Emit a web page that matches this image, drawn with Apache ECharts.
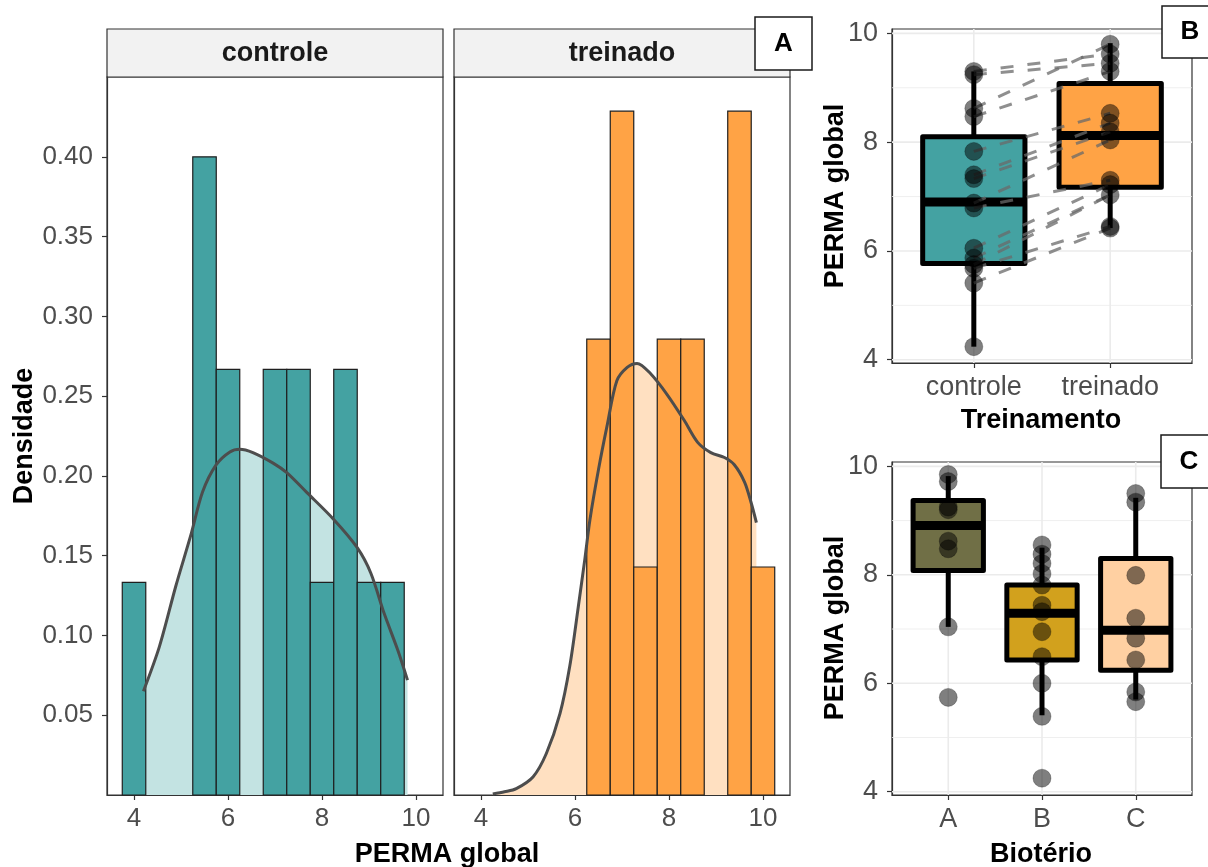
<!DOCTYPE html>
<html>
<head>
<meta charset="utf-8">
<title>PERMA global</title>
<script src="https://cdn.jsdelivr.net/npm/echarts@6/dist/echarts.min.js"></script>
<style>
  html, body { margin: 0; padding: 0; background: #fff; }
  #chart { width: 1208px; height: 867px; }
</style>
</head>
<body>
<div id="chart"></div>
<script>
// Histogram bins (width 0.5) and densities per group
const binWidth = 0.5;
const binStarts = [3.75, 4.25, 4.75, 5.25, 5.75, 6.25, 6.75, 7.25, 7.75, 8.25, 8.75, 9.25, 9.75];
const controleDensity = [0.1333, 0, 0, 0.4, 0.2667, 0, 0.2667, 0.2667, 0.1333, 0.2667, 0.1333, 0.1333, 0];
const treinadoDensity = [0, 0, 0, 0, 0, 0.2857, 0.4286, 0.1429, 0.2857, 0.2857, 0, 0.4286, 0.1429];

// Kernel density estimates
const controleKdeX = [4.20, 4.54, 4.89, 5.21, 5.46, 5.75, 6.04, 6.25, 6.53, 6.96, 7.25, 7.68, 8.25, 8.75, 9.04, 9.32, 9.61, 9.82];
const controleKdeY = [0.065, 0.093, 0.131, 0.163, 0.190, 0.207, 0.215, 0.2167, 0.2146, 0.208, 0.202, 0.1895, 0.1727, 0.155, 0.139, 0.114, 0.091, 0.072];
const treinadoKdeX = [4.25, 4.50, 4.75, 5.11, 5.39, 5.68, 5.89, 6.07, 6.21, 6.32, 6.50, 6.68, 6.89, 7.11, 7.32, 7.61, 7.96, 8.32, 8.61, 8.89, 9.18, 9.39, 9.61, 9.75, 9.86];
const treinadoKdeY = [0.0006, 0.002, 0.004, 0.0115, 0.026, 0.051, 0.081, 0.118, 0.148, 0.173, 0.204, 0.231, 0.2596, 0.268, 0.2705, 0.264, 0.251, 0.235, 0.221, 0.2146, 0.2115, 0.207, 0.196, 0.183, 0.1707];

// Axis ticks
const densTicks = [0.05, 0.10, 0.15, 0.20, 0.25, 0.30, 0.35, 0.40];
const permaTicksHist = [4, 6, 8, 10];
const permaTicks = [4, 6, 8, 10];
const permaMinor = [5, 7, 9];

// Training groups: box stats [position, lower whisker, Q1, median, Q3, upper whisker]
const treinoCats = ['controle', 'treinado'];
const treinoBoxes = [
  [1, 4.24, 5.77, 6.90, 8.10, 9.30],
  [2, 6.42, 7.17, 8.12, 9.08, 9.82]
];
const controlePoints = [9.30, 9.24, 8.62, 8.47, 7.83, 7.40, 7.33, 6.88, 6.79, 6.05, 5.87, 5.75, 5.68, 5.41, 4.24];
const treinadoPoints = [9.80, 9.62, 9.45, 9.30, 8.53, 8.35, 8.19, 8.04, 7.30, 7.22, 7.03, 6.45, 6.42];
// Paired subjects: controle value -> treinado value
const pairControle = [9.30, 9.24, 8.62, 8.47, 7.83, 7.40, 7.33, 6.88, 6.79, 6.05, 5.87, 5.75, 5.68, 5.41];
const pairTreinado = [9.62, 9.45, 9.80, 9.30, 8.53, 8.35, 8.19, 8.04, 7.30, 7.22, 7.03, 7.03, 6.45, 6.42];

// Animal facility groups
const bioCats = ['A', 'B', 'C'];
const bioBoxes = [
  [1, 7.04, 8.08, 8.91, 9.37, 9.82],
  [2, 5.41, 6.43, 7.29, 7.81, 8.50],
  [3, 5.70, 6.24, 6.98, 8.30, 9.42]
];
const bioPointsA = [9.85, 9.72, 9.25, 9.20, 8.62, 8.48, 7.04, 5.74];
const bioPointsB = [8.55, 8.38, 8.21, 8.02, 7.81, 7.44, 7.32, 6.95, 6.49, 6.00, 5.39, 4.25];
const bioPointsC = [9.50, 9.34, 7.99, 7.20, 6.83, 6.43, 5.84, 5.66];

const TEAL = '#44A2A2', ORANGE = '#FFA345';
const TEAL_LIGHT = '#C3E3E2', ORANGE_LIGHT = '#FFE0C1';
const treinoColors = [TEAL, ORANGE];
const bioColors = ['#706F46', '#D2A11D', '#FFD0A2'];
const FONT = '"Liberation Sans", Arial, sans-serif';
const boxWidth = 0.75;

function zip(xs, ys) { return xs.map((x, i) => [x, ys[i]]); }

function histSeries(idx, dens, color) {
  return {
    type: 'custom', xAxisIndex: idx, yAxisIndex: idx, z: 3,
    data: binStarts.map((b, i) => [b, dens[i]]),
    renderItem(params, api) {
      const x0 = api.value(0), h = api.value(1);
      if (!h) return null;
      const p0 = api.coord([x0, h]);
      const p1 = api.coord([x0 + binWidth, 0]);
      return {
        type: 'rect',
        shape: { x: p0[0], y: p0[1], width: p1[0] - p0[0], height: p1[1] - p0[1] },
        style: { fill: color, stroke: '#1f1f1f', lineWidth: 1.2 }
      };
    }
  };
}

function kdeArea(idx, xs, ys, fill) {
  return {
    type: 'line', xAxisIndex: idx, yAxisIndex: idx, z: 2, smooth: 0.3, symbol: 'none',
    data: zip(xs, ys), lineStyle: { width: 0 }, areaStyle: { color: fill, opacity: 1 }
  };
}

function kdeLine(idx, xs, ys) {
  return {
    type: 'line', xAxisIndex: idx, yAxisIndex: idx, z: 4, smooth: 0.3, symbol: 'none',
    data: zip(xs, ys), lineStyle: { color: '#4D4D4D', width: 3 }
  };
}

function gridLines(idx, cats) {
  const data = permaTicks.map(v => [v, 0, 1.6])
    .concat(permaMinor.map(v => [v, 0, 0.8]))
    .concat(cats.map((c, i) => [i + 1, 1, 1.6]));
  return {
    type: 'custom', xAxisIndex: idx, yAxisIndex: idx, z: 1, silent: true,
    data,
    renderItem(params, api) {
      const cs = params.coordSys;
      const v = api.value(0), vertical = api.value(1), w = api.value(2);
      let shape;
      if (vertical) {
        const px = api.coord([v, 7])[0];
        shape = { x1: px, y1: cs.y, x2: px, y2: cs.y + cs.height };
      } else {
        const py = api.coord([1, v])[1];
        shape = { x1: cs.x, y1: py, x2: cs.x + cs.width, y2: py };
      }
      return { type: 'line', shape, style: { stroke: '#EBEBEB', lineWidth: w } };
    }
  };
}

function boxSeries(idx, boxes, colors) {
  return {
    type: 'custom', xAxisIndex: idx, yAxisIndex: idx, z: 3,
    data: boxes,
    renderItem(params, api) {
      const x = api.value(0);
      const lo = api.coord([x, api.value(1)]);
      const q1 = api.coord([x, api.value(2)]);
      const md = api.coord([x, api.value(3)]);
      const q3 = api.coord([x, api.value(4)]);
      const hi = api.coord([x, api.value(5)]);
      const half = api.size([boxWidth, 0])[0] / 2;
      const cx = md[0];
      const stroke = { stroke: '#000', lineWidth: 5, lineCap: 'butt' };
      return {
        type: 'group',
        children: [
          { type: 'line', shape: { x1: cx, y1: q3[1], x2: cx, y2: hi[1] }, style: stroke },
          { type: 'line', shape: { x1: cx, y1: q1[1], x2: cx, y2: lo[1] }, style: stroke },
          { type: 'rect', shape: { x: cx - half, y: q3[1], width: 2 * half, height: q1[1] - q3[1] },
            style: { fill: colors[params.dataIndex], stroke: '#000', lineWidth: 5, lineJoin: 'round' } },
          { type: 'line', shape: { x1: cx - half, y1: md[1], x2: cx + half, y2: md[1] },
            style: { stroke: '#000', lineWidth: 9 } }
        ]
      };
    }
  };
}

function pointSeries(idx, pos, values) {
  return {
    type: 'scatter', xAxisIndex: idx, yAxisIndex: idx, z: 6,
    symbolSize: 18,
    data: values.map(v => [pos, v]),
    itemStyle: { color: 'rgba(0,0,0,0.5)', borderColor: 'rgba(0,0,0,0.25)', borderWidth: 1, opacity: 1 }
  };
}

const pairSeries = {
  type: 'custom', xAxisIndex: 2, yAxisIndex: 2, z: 5,
  data: zip(pairControle, pairTreinado),
  renderItem(params, api) {
    const a = api.coord([1, api.value(0)]);
    const b = api.coord([2, api.value(1)]);
    return {
      type: 'line', shape: { x1: a[0], y1: a[1], x2: b[0], y2: b[1] },
      style: { stroke: 'rgba(105,105,105,0.75)', lineWidth: 3, lineDash: [13, 14] }
    };
  }
};

const tickStyle = { length: 5, lineStyle: { color: '#333', width: 1.2 } };
const labelStyle = { color: '#4D4D4D', fontFamily: FONT };

function baseAxis(extra) {
  return Object.assign({
    type: 'value',
    axisLine: { show: true, onZero: false, lineStyle: { color: '#333', width: 1.2 } },
    splitLine: { show: false }
  }, extra);
}

const option = {
  animation: false,
  backgroundColor: '#fff',
  grid: [
    { left: 107, top: 77, width: 336, height: 718, show: true, borderColor: '#333', borderWidth: 1.2 },
    { left: 454, top: 77, width: 336, height: 718, show: true, borderColor: '#333', borderWidth: 1.2 },
    { left: 892, top: 29, width: 300, height: 334, show: true, borderColor: '#333', borderWidth: 1.2 },
    { left: 892, top: 462, width: 300, height: 333, show: true, borderColor: '#333', borderWidth: 1.2 }
  ],
  xAxis: [
    baseAxis({ gridIndex: 0, min: 3.425, max: 10.575,
      axisTick: Object.assign({ customValues: permaTicksHist }, tickStyle),
      axisLabel: Object.assign({ customValues: permaTicksHist, fontSize: 26, margin: 11 }, labelStyle) }),
    baseAxis({ gridIndex: 1, min: 3.425, max: 10.575,
      axisTick: Object.assign({ customValues: permaTicksHist }, tickStyle),
      axisLabel: Object.assign({ customValues: permaTicksHist, fontSize: 26, margin: 11 }, labelStyle) }),
    baseAxis({ gridIndex: 2, min: 0.4, max: 2.6,
      axisTick: Object.assign({ customValues: [1, 2] }, tickStyle),
      axisLabel: Object.assign({ customValues: [1, 2], fontSize: 27, margin: 11,
        formatter: v => treinoCats[Math.round(v) - 1] }, labelStyle) }),
    baseAxis({ gridIndex: 3, min: 0.4, max: 3.6,
      axisTick: Object.assign({ customValues: [1, 2, 3] }, tickStyle),
      axisLabel: Object.assign({ customValues: [1, 2, 3], fontSize: 27, margin: 11,
        formatter: v => bioCats[Math.round(v) - 1] }, labelStyle) })
  ],
  yAxis: [
    baseAxis({ gridIndex: 0, min: 0, max: 0.45,
      axisTick: Object.assign({ customValues: densTicks }, tickStyle),
      axisLabel: Object.assign({ customValues: densTicks, fontSize: 26, margin: 14,
        formatter: v => v.toFixed(2) }, labelStyle) }),
    baseAxis({ gridIndex: 1, min: 0, max: 0.45, axisTick: { show: false }, axisLabel: { show: false } }),
    baseAxis({ gridIndex: 2, min: 3.94, max: 10.08,
      axisTick: Object.assign({ customValues: permaTicks }, tickStyle),
      axisLabel: Object.assign({ customValues: permaTicks, fontSize: 27, margin: 14 }, labelStyle) }),
    baseAxis({ gridIndex: 3, min: 3.94, max: 10.08,
      axisTick: Object.assign({ customValues: permaTicks }, tickStyle),
      axisLabel: Object.assign({ customValues: permaTicks, fontSize: 27, margin: 14 }, labelStyle) })
  ],
  series: [
    kdeArea(0, controleKdeX, controleKdeY, TEAL_LIGHT),
    histSeries(0, controleDensity, TEAL),
    kdeLine(0, controleKdeX, controleKdeY),
    kdeArea(1, treinadoKdeX, treinadoKdeY, ORANGE_LIGHT),
    histSeries(1, treinadoDensity, ORANGE),
    kdeLine(1, treinadoKdeX, treinadoKdeY),

    gridLines(2, treinoCats),
    boxSeries(2, treinoBoxes, treinoColors),
    pairSeries,
    pointSeries(2, 1, controlePoints),
    pointSeries(2, 2, treinadoPoints),

    gridLines(3, bioCats),
    boxSeries(3, bioBoxes, bioColors),
    pointSeries(3, 1, bioPointsA),
    pointSeries(3, 2, bioPointsB),
    pointSeries(3, 3, bioPointsC)
  ],
  graphic: [
    // facet strips
    { type: 'rect', shape: { x: 107, y: 29, width: 336, height: 48 }, style: { fill: '#F2F2F2', stroke: '#333', lineWidth: 1.2 } },
    { type: 'rect', shape: { x: 454, y: 29, width: 336, height: 48 }, style: { fill: '#F2F2F2', stroke: '#333', lineWidth: 1.2 } },
    { type: 'text', x: 275, y: 54, style: { text: 'controle', font: 'bold 27px ' + FONT, fill: '#1A1A1A', align: 'center', verticalAlign: 'middle', textAlign: 'center', textVerticalAlign: 'middle' } },
    { type: 'text', x: 622, y: 54, style: { text: 'treinado', font: 'bold 27px ' + FONT, fill: '#1A1A1A', align: 'center', verticalAlign: 'middle', textAlign: 'center', textVerticalAlign: 'middle' } },

    // axis titles
    { type: 'text', x: 25, y: 436, rotation: Math.PI / 2, style: { text: 'Densidade', font: 'bold 27px ' + FONT, fill: '#000', align: 'center', verticalAlign: 'middle', textAlign: 'center', textVerticalAlign: 'middle' } },
    { type: 'text', x: 447, y: 855, style: { text: 'PERMA global', font: 'bold 27px ' + FONT, fill: '#000', align: 'center', verticalAlign: 'middle', textAlign: 'center', textVerticalAlign: 'middle' } },
    { type: 'text', x: 836, y: 196, rotation: Math.PI / 2, style: { text: 'PERMA global', font: 'bold 27px ' + FONT, fill: '#000', align: 'center', verticalAlign: 'middle', textAlign: 'center', textVerticalAlign: 'middle' } },
    { type: 'text', x: 1041, y: 421, style: { text: 'Treinamento', font: 'bold 27px ' + FONT, fill: '#000', align: 'center', verticalAlign: 'middle', textAlign: 'center', textVerticalAlign: 'middle' } },
    { type: 'text', x: 836, y: 628, rotation: Math.PI / 2, style: { text: 'PERMA global', font: 'bold 27px ' + FONT, fill: '#000', align: 'center', verticalAlign: 'middle', textAlign: 'center', textVerticalAlign: 'middle' } },
    { type: 'text', x: 1041, y: 855, style: { text: 'Biotério', font: 'bold 27px ' + FONT, fill: '#000', align: 'center', verticalAlign: 'middle', textAlign: 'center', textVerticalAlign: 'middle' } },

    // panel tags
    { type: 'rect', z: 10, shape: { x: 755, y: 17, width: 57, height: 53 }, style: { fill: '#fff', stroke: '#1A1A1A', lineWidth: 1.5 } },
    { type: 'text', z: 11, x: 783.5, y: 44, style: { text: 'A', font: 'bold 26px ' + FONT, fill: '#000', align: 'center', verticalAlign: 'middle', textAlign: 'center', textVerticalAlign: 'middle' } },
    { type: 'rect', z: 10, shape: { x: 1162, y: 6, width: 60, height: 52 }, style: { fill: '#fff', stroke: '#1A1A1A', lineWidth: 1.5 } },
    { type: 'text', z: 11, x: 1190, y: 32, style: { text: 'B', font: 'bold 26px ' + FONT, fill: '#000', align: 'center', verticalAlign: 'middle', textAlign: 'center', textVerticalAlign: 'middle' } },
    { type: 'rect', z: 10, shape: { x: 1161, y: 435, width: 60, height: 53 }, style: { fill: '#fff', stroke: '#1A1A1A', lineWidth: 1.5 } },
    { type: 'text', z: 11, x: 1189, y: 462, style: { text: 'C', font: 'bold 26px ' + FONT, fill: '#000', align: 'center', verticalAlign: 'middle', textAlign: 'center', textVerticalAlign: 'middle' } }
  ]
};

const chart = echarts.init(document.getElementById('chart'));
chart.setOption(option);
</script>
</body>
</html>
